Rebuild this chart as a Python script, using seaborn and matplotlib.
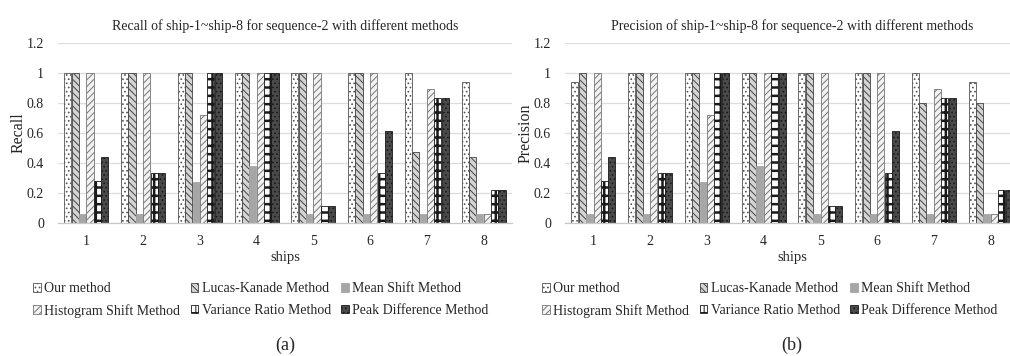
import numpy as np
import pandas as pd
import matplotlib
matplotlib.use("Agg")
import matplotlib.pyplot as plt
import seaborn as sns
from matplotlib.patches import Patch

ships = ["1", "2", "3", "4", "5", "6", "7", "8"]
methods = ["Our method", "Lucas-Kanade Method", "Mean Shift Method",
           "Histogram Shift Method", "Variance Ratio Method", "Peak Difference Method"]

recall_our = [1, 1, 1, 1, 1, 1, 1, 0.94]
recall_lk = [1, 1, 1, 1, 1, 1, 0.47, 0.44]
recall_ms = [0.055, 0.055, 0.27, 0.38, 0.055, 0.055, 0.055, 0.055]
recall_hs = [1, 1, 0.72, 1, 1, 1, 0.89, 0.055]
recall_vr = [0.28, 0.33, 1, 1, 0.11, 0.33, 0.83, 0.22]
recall_pd = [0.44, 0.33, 1, 1, 0.11, 0.61, 0.83, 0.22]

prec_our = [0.94, 1, 1, 1, 1, 1, 1, 0.94]
prec_lk = [1, 1, 1, 1, 1, 1, 0.80, 0.80]
prec_ms = [0.055, 0.055, 0.27, 0.38, 0.055, 0.055, 0.055, 0.055]
prec_hs = [1, 1, 0.72, 1, 1, 1, 0.89, 0.055]
prec_vr = [0.28, 0.33, 1, 1, 0.11, 0.33, 0.83, 0.22]
prec_pd = [0.44, 0.33, 1, 1, 0.11, 0.61, 0.83, 0.22]

titles = ["Recall of ship-1~ship-8 for sequence-2 with different methods",
          "Precision of ship-1~ship-8 for sequence-2 with different methods"]
ylabels = ["Recall", "Precision"]
panel_tags = ["(a)", "(b)"]
yticks = [0, 0.2, 0.4, 0.6, 0.8, 1, 1.2]
ytick_labels = ["0", "0.2", "0.4", "0.6", "0.8", "1", "1.2"]

faces = ["#ffffff", "#d4d4d4", "#a6a6a6", "#f2f2f2", "#ffffff", "#4a4a4a"]
hatches = ["....", "\\\\\\\\\\", None, "/////", "++", "...."]
hatch_edges = ["#555555", "#444444", "#a6a6a6", "#777777", "#1a1a1a", "#1a1a1a"]
hatch_lws = [0.7, 0.7, 0.7, 0.7, 1.8, 0.7]

sns.set_theme(style="white")
plt.rcParams["font.family"] = ["Liberation Serif", "DejaVu Serif"]
plt.rcParams["hatch.linewidth"] = 0.7


def make_df(series):
    rows = []
    for m, vals in zip(methods, series):
        for s, v in zip(ships, vals):
            rows.append({"ship": s, "method": m, "value": v})
    return pd.DataFrame(rows)


def style_patch(p, k):
    p.set_facecolor(faces[k])
    p.set_edgecolor(hatch_edges[k])
    p.set_linewidth(0.6)
    if hatches[k]:
        p.set_hatch(hatches[k])
        if hasattr(p, "set_hatch_linewidth"):
            p.set_hatch_linewidth(hatch_lws[k])


dfs = [make_df([recall_our, recall_lk, recall_ms, recall_hs, recall_vr, recall_pd]),
       make_df([prec_our, prec_lk, prec_ms, prec_hs, prec_vr, prec_pd])]

fig = plt.figure(figsize=(10.1, 3.56), dpi=100)
positions = [[0.0574, 0.3745, 0.4495, 0.505], [0.5594, 0.3745, 0.4495, 0.505]]
centers_x = [285 / 1010, 792 / 1010]
legend_left = [33 / 1010, 542 / 1010]

for i in range(2):
    ax = fig.add_axes(positions[i])
    sns.barplot(data=dfs[i], x="ship", y="value", hue="method", hue_order=methods,
                order=ships, palette=faces, width=0.78, gap=0.04, saturation=1,
                legend=False, ax=ax)
    for k, cont in enumerate(ax.containers):
        for p in cont:
            style_patch(p, k)
    ax.set_ylim(0, 1.2)
    ax.set_xlim(-0.5, 7.5)
    ax.set_yticks(yticks)
    ax.set_yticklabels(ytick_labels, fontsize=10)
    ax.tick_params(axis="x", labelsize=10, length=0, pad=9)
    ax.tick_params(axis="y", length=0, pad=10)
    ax.set_xticks(np.arange(-0.5, 8, 1), minor=True)
    ax.tick_params(axis="x", which="minor", length=4, color="#c8c8c8", width=0.8, direction="out")
    ax.grid(axis="y", color="#dcdcdc", linewidth=0.9)
    ax.set_axisbelow(True)
    for side in ["top", "right", "left"]:
        ax.spines[side].set_visible(False)
    ax.spines["bottom"].set_color("#c8c8c8")
    ax.spines["bottom"].set_linewidth(0.9)
    ax.set_xlabel("ships", fontsize=10.5, labelpad=2)
    ax.set_ylabel(ylabels[i], fontsize=11.5, labelpad=0)
    ax.set_title(titles[i], fontsize=10, pad=9)

    handles = []
    for k in range(6):
        h = Patch(linewidth=0.6)
        style_patch(h, k)
        handles.append(h)
    order = [0, 3, 1, 4, 2, 5]
    fig.legend([handles[o] for o in order], [methods[o] for o in order], ncol=3,
               loc="center left", bbox_to_anchor=(legend_left[i], (356 - 300) / 356),
               frameon=False, fontsize=10, handlelength=0.55, handleheight=0.55,
               handletextpad=0.25, columnspacing=0.75, labelspacing=0.6, borderpad=0,
               borderaxespad=0)
    fig.text(centers_x[i], (356 - 345) / 356, panel_tags[i], ha="center", va="center", fontsize=13)

fig.savefig("out.png", dpi=100)
